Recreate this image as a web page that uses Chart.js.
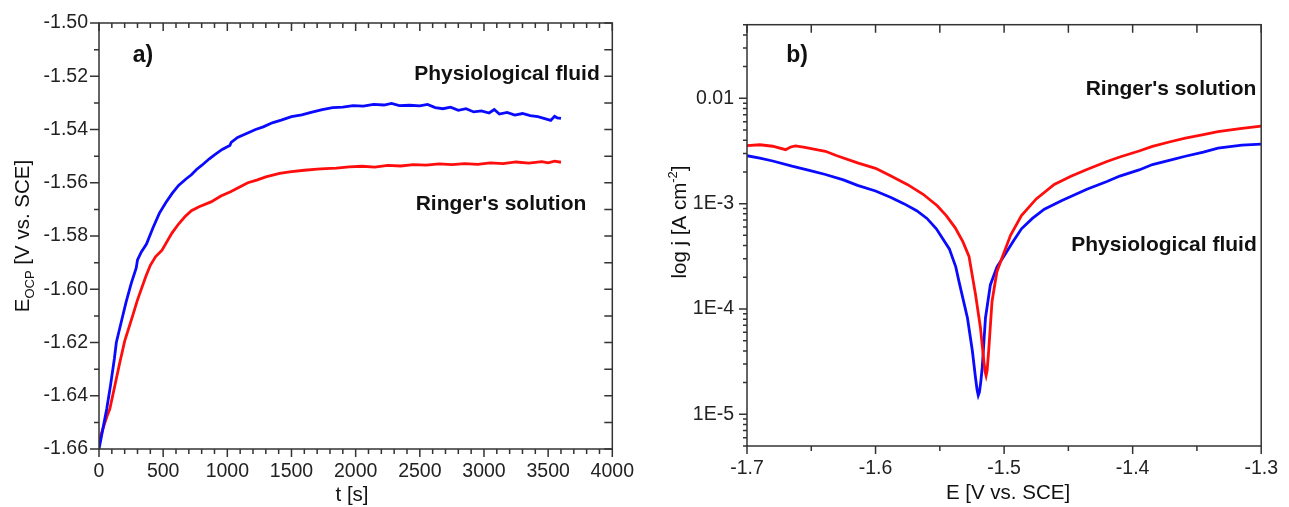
<!DOCTYPE html>
<html>
<head>
<meta charset="utf-8">
<script src="https://cdn.jsdelivr.net/npm/chart.js@4.4.1/dist/chart.umd.min.js"></script>
<style>
  html, body { margin: 0; padding: 0; background: #fff; }
  #wrap { position: relative; width: 1289px; height: 507px; }
  #left { position: absolute; left: 0; top: 0; }
  #right { position: absolute; left: 645px; top: 0; }
</style>
</head>
<body>
<div id="wrap">
  <canvas id="left" width="645" height="507"></canvas>
  <canvas id="right" width="644" height="507"></canvas>
</div>
<script>
// ---- a) open circuit potential vs time ----
var ocpTimePhys = [0, 20, 40, 60, 90, 120, 135, 150, 180, 210, 250, 290, 300, 330, 370, 420, 470, 520, 570, 620, 680, 720, 760, 800, 860, 900, 960, 1000, 1020, 1030, 1080, 1150, 1220, 1280, 1350, 1420, 1500, 1580, 1660, 1740, 1820, 1900, 1980, 2060, 2140, 2220, 2280, 2340, 2420, 2500, 2560, 2620, 2680, 2740, 2800, 2860, 2920, 2980, 3040, 3080, 3120, 3180, 3240, 3300, 3360, 3420, 3480, 3520, 3550, 3570, 3600];
var ocpPhys = [-1.660, -1.655, -1.650, -1.645, -1.636, -1.626, -1.620, -1.617, -1.611, -1.605, -1.598, -1.592, -1.589, -1.586, -1.583, -1.577, -1.5715, -1.5675, -1.564, -1.561, -1.5585, -1.557, -1.555, -1.5535, -1.551, -1.5495, -1.5475, -1.5465, -1.5460, -1.5448, -1.5430, -1.5415, -1.5400, -1.5390, -1.5375, -1.5365, -1.5352, -1.5345, -1.5335, -1.5325, -1.5318, -1.5316, -1.5310, -1.5312, -1.5306, -1.5308, -1.5302, -1.5310, -1.5309, -1.5311, -1.5306, -1.5318, -1.5322, -1.5316, -1.5328, -1.5322, -1.5334, -1.5330, -1.5338, -1.5325, -1.5342, -1.5336, -1.5346, -1.5340, -1.5348, -1.5352, -1.5360, -1.5366, -1.5350, -1.5356, -1.5358];

var ocpTimeRing = [0, 20, 40, 60, 84, 120, 160, 200, 262, 300, 364, 400, 440, 491, 567, 620, 669, 720, 780, 873, 950, 1025, 1100, 1160, 1229, 1300, 1407, 1500, 1600, 1700, 1763, 1850, 1950, 2050, 2150, 2250, 2350, 2450, 2550, 2650, 2750, 2850, 2950, 3050, 3150, 3250, 3350, 3450, 3500, 3550, 3600];
var ocpRing = [-1.657, -1.654, -1.651, -1.648, -1.645, -1.637, -1.628, -1.6195, -1.610, -1.604, -1.5953, -1.591, -1.5878, -1.5853, -1.579, -1.5755, -1.5728, -1.5705, -1.5690, -1.5672, -1.5650, -1.5634, -1.5615, -1.5600, -1.5590, -1.5578, -1.5565, -1.5558, -1.5553, -1.5549, -1.5547, -1.5545, -1.5540, -1.5538, -1.5541, -1.5535, -1.5537, -1.5532, -1.5534, -1.5529, -1.5532, -1.5528, -1.5531, -1.5525, -1.5528, -1.5522, -1.5526, -1.5521, -1.5525, -1.5519, -1.5523];

// ---- b) polarization curves ----
var potRing = [-1.700, -1.690, -1.680, -1.670, -1.666, -1.6623, -1.655, -1.645, -1.639, -1.630, -1.614, -1.600, -1.588, -1.575, -1.563, -1.552, -1.545, -1.538, -1.532, -1.5273, -1.5222, -1.5184, -1.5158, -1.5148, -1.514, -1.5132, -1.512, -1.5094, -1.5056, -1.5018, -1.495, -1.4865, -1.475, -1.461, -1.448, -1.4356, -1.42, -1.41, -1.395, -1.3846, -1.37, -1.359, -1.345, -1.3336, -1.315, -1.300];
var curRing = [3.548e-3, 3.622e-3, 3.508e-3, 3.251e-3, 3.451e-3, 3.540e-3, 3.428e-3, 3.236e-3, 3.141e-3, 2.851e-3, 2.438e-3, 2.163e-3, 1.828e-3, 1.514e-3, 1.227e-3, 9.55e-4, 7.69e-4, 5.89e-4, 4.33e-4, 3.16e-4, 1.365e-4, 6.64e-5, 3.23e-5, 2.55e-5, 2.33e-5, 2.6e-5, 4.01e-5, 1.18e-4, 2.26e-4, 3.02e-4, 5.01e-4, 7.69e-4, 1.109e-3, 1.524e-3, 1.820e-3, 2.109e-3, 2.512e-3, 2.773e-3, 3.162e-3, 3.499e-3, 3.890e-3, 4.188e-3, 4.519e-3, 4.831e-3, 5.188e-3, 5.458e-3];

var potPhys = [-1.700, -1.690, -1.680, -1.665, -1.650, -1.639, -1.625, -1.614, -1.600, -1.588, -1.578, -1.568, -1.560, -1.5527, -1.5426, -1.5376, -1.5349, -1.5285, -1.5247, -1.5222, -1.5210, -1.5201, -1.5192, -1.5182, -1.517, -1.5145, -1.5107, -1.5055, -1.4992, -1.493, -1.4865, -1.478, -1.4687, -1.455, -1.4356, -1.42, -1.41, -1.395, -1.3846, -1.37, -1.359, -1.345, -1.3336, -1.315, -1.300];
var curPhys = [2.851e-3, 2.704e-3, 2.541e-3, 2.270e-3, 2.051e-3, 1.892e-3, 1.679e-3, 1.493e-3, 1.318e-3, 1.143e-3, 1.000e-3, 8.57e-4, 7.24e-4, 5.77e-4, 3.72e-4, 2.51e-4, 1.78e-4, 8.22e-5, 4.01e-5, 2.2e-5, 1.7e-5, 1.51e-5, 1.62e-5, 2.0e-5, 2.79e-5, 8.22e-5, 1.69e-4, 2.51e-4, 3.31e-4, 4.37e-4, 5.77e-4, 7.24e-4, 8.87e-4, 1.072e-3, 1.368e-3, 1.622e-3, 1.828e-3, 2.089e-3, 2.350e-3, 2.600e-3, 2.818e-3, 3.090e-3, 3.373e-3, 3.589e-3, 3.673e-3];

var logTickValues = [1e-5, 1e-4, 1e-3, 1e-2];

var FONT = "'Liberation Sans', Arial, sans-serif";
var BLUE = '#0a0aff';
var RED = '#ff0d0d';
var AXIS = '#333';

function pts(xs, ys) {
    return xs.map(function (x, i) { return { x: x, y: ys[i] }; });
}

// text with sub/superscript pieces, centred on (x, y)
function richText(ctx, parts, x, y, angle) {
    ctx.save();
    ctx.translate(x, y);
    ctx.rotate(angle || 0);
    ctx.fillStyle = '#111';
    ctx.textBaseline = 'alphabetic';
    var total = 0;
    parts.forEach(function (p) {
        ctx.font = (p.bold ? 'bold ' : '') + p.size + 'px ' + FONT;
        p.w = ctx.measureText(p.s).width;
        total += p.w;
    });
    var cx = -total / 2;
    parts.forEach(function (p) {
        ctx.font = (p.bold ? 'bold ' : '') + p.size + 'px ' + FONT;
        ctx.fillText(p.s, cx, p.dy || 0);
        cx += p.w;
    });
    ctx.restore();
}

function framePlugin(spec) {
    return {
        id: 'frame',
        afterDraw: function (chart) {
            var ctx = chart.ctx, a = chart.chartArea;
            var xs = chart.scales.x, ys = chart.scales.y;
            ctx.save();
            ctx.strokeStyle = AXIS;
            ctx.lineWidth = 1.5;
            ctx.strokeRect(a.left, a.top, a.right - a.left, a.bottom - a.top);
            ctx.beginPath();
            spec.xTicks.forEach(function (t) {
                var px = xs.getPixelForValue(t.v);
                ctx.moveTo(px, a.bottom); ctx.lineTo(px, a.bottom + t.b);
                if (t.t) { ctx.moveTo(px, a.top); ctx.lineTo(px, a.top + t.t); }
            });
            spec.yTicks.forEach(function (t) {
                var py = ys.getPixelForValue(t.v);
                ctx.moveTo(a.left - t.l, py); ctx.lineTo(a.left, py);
                if (t.r) { ctx.moveTo(a.right - t.r, py); ctx.lineTo(a.right, py); }
            });
            ctx.stroke();
            ctx.restore();
            spec.texts.forEach(function (tx) {
                richText(ctx, tx.parts, tx.x, tx.y, tx.angle);
            });
        }
    };
}

// tick marks for panel a
var aXTicks = [];
for (var t = 0; t <= 4000; t += 100) {
    var maj = t % 500 === 0;
    aXTicks.push({ v: t, b: maj ? 8 : 5, t: maj ? 8 : 5 });
}
var aYTicks = [];
for (var k = 0; k <= 16; k++) {
    aYTicks.push({ v: -1.66 + k * 0.01, l: k % 2 === 0 ? 9 : 5, r: 8 });
}

// tick marks for panel b
var bXTicks = [];
for (var m = 0; m <= 8; m++) {
    bXTicks.push({ v: -1.7 + m * 0.05, b: m % 2 === 0 ? 8 : 5, t: 8 });
}
var bYTicks = [];
for (var d = -6; d <= -2; d++) {
    for (var f = 1; f <= 9; f++) {
        var val = f * Math.pow(10, d);
        if (val >= 4.99e-6 && val <= 0.0501) bYTicks.push({ v: val, l: f === 1 ? 8 : 4 });
    }
}

var tickFont = { family: FONT, size: 19.5 };

new Chart(document.getElementById('left'), {
    type: 'line',
    data: {
        datasets: [
            { label: 'Physiological fluid', data: pts(ocpTimePhys, ocpPhys), borderColor: BLUE, borderWidth: 2.8, pointRadius: 0, tension: 0 },
            { label: "Ringer's solution", data: pts(ocpTimeRing, ocpRing), borderColor: RED, borderWidth: 2.8, pointRadius: 0, tension: 0 }
        ]
    },
    options: {
        responsive: false,
        animation: false,
        layout: { padding: { left: 0, right: 22, top: 23, bottom: 0 } },
        plugins: { legend: { display: false }, tooltip: { enabled: false } },
        scales: {
            x: {
                type: 'linear', min: 0, max: 4000,
                grid: { display: false, drawTicks: false }, border: { display: false },
                ticks: { stepSize: 500, font: tickFont, color: '#222', padding: 11, maxRotation: 0, autoSkip: false,
                    callback: function (v) { return String(v); } },
                afterFit: function (s) { s.height = 58; }
            },
            y: {
                min: -1.66, max: -1.50,
                grid: { display: false, drawTicks: false }, border: { display: false },
                ticks: { stepSize: 0.02, font: tickFont, color: '#222', padding: 11, autoSkip: false,
                    callback: function (v) { return v.toFixed(2); } },
                afterFit: function (s) { s.width = 99; }
            }
        }
    },
    plugins: [framePlugin({
        xTicks: aXTicks, yTicks: aYTicks,
        texts: [
            { x: 143, y: 62, parts: [{ s: 'a)', size: 23, bold: true }] },
            { x: 507, y: 80, parts: [{ s: 'Physiological fluid', size: 21, bold: true }] },
            { x: 501, y: 210, parts: [{ s: "Ringer's solution", size: 21, bold: true }] },
            { x: 352, y: 501, parts: [{ s: 't [s]', size: 20.5 }] },
            { x: 29, y: 236, angle: -Math.PI / 2, parts: [
                { s: 'E', size: 20.5 }, { s: 'OCP', size: 13, dy: 5 }, { s: ' [V vs. SCE]', size: 20.5 }] }
        ]
    })]
});

new Chart(document.getElementById('right'), {
    type: 'line',
    data: {
        datasets: [
            { label: "Ringer's solution", data: pts(potRing, curRing), borderColor: RED, borderWidth: 2.8, pointRadius: 0, tension: 0 },
            { label: 'Physiological fluid', data: pts(potPhys, curPhys), borderColor: BLUE, borderWidth: 2.8, pointRadius: 0, tension: 0 }
        ]
    },
    options: {
        responsive: false,
        animation: false,
        layout: { padding: { left: 0, right: 18, top: 21, bottom: 0 } },
        plugins: { legend: { display: false }, tooltip: { enabled: false } },
        scales: {
            x: {
                type: 'linear', min: -1.7, max: -1.3,
                grid: { display: false, drawTicks: false }, border: { display: false },
                ticks: { stepSize: 0.1, font: tickFont, color: '#222', padding: 11, maxRotation: 0, autoSkip: false,
                    callback: function (v) { return v.toFixed(1); } },
                afterFit: function (s) { s.height = 61; }
            },
            y: {
                type: 'logarithmic', min: 5e-6, max: 0.05,
                grid: { display: false, drawTicks: false }, border: { display: false },
                ticks: { font: tickFont, color: '#222', padding: 13, autoSkip: false,
                    callback: function (v) {
                        if (Math.abs(v - 0.01) < 1e-9) return '0.01';
                        return '1E' + Math.round(Math.log10(v));
                    } },
                afterBuildTicks: function (s) {
                    s.ticks = logTickValues.map(function (v) { return { value: v }; });
                },
                afterFit: function (s) { s.width = 102; }
            }
        }
    },
    plugins: [framePlugin({
        xTicks: bXTicks, yTicks: bYTicks,
        texts: [
            { x: 152, y: 62, parts: [{ s: 'b)', size: 23, bold: true }] },
            { x: 526, y: 95, parts: [{ s: "Ringer's solution", size: 21, bold: true }] },
            { x: 519, y: 251, parts: [{ s: 'Physiological fluid', size: 21, bold: true }] },
            { x: 363, y: 499, parts: [{ s: 'E [V vs. SCE]', size: 20.5 }] },
            { x: 41, y: 222, angle: -Math.PI / 2, parts: [
                { s: 'log j [A cm', size: 20.5 }, { s: '-2', size: 13, dy: -9 }, { s: ']', size: 20.5 }] }
        ]
    })]
});
</script>
</body>
</html>
